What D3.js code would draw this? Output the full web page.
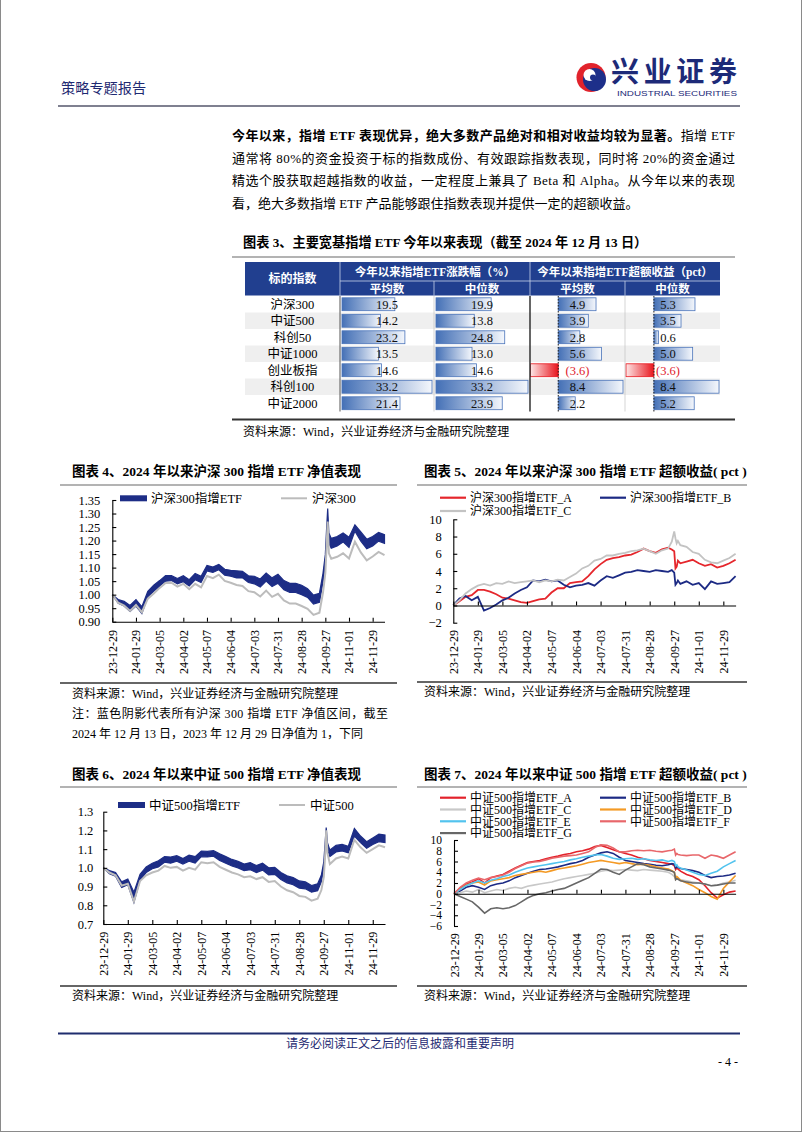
<!DOCTYPE html>
<html><head><meta charset="utf-8">
<script src="https://cdn.jsdelivr.net/npm/d3@7"></script>
<style>
html,body{margin:0;padding:0;background:#fff;}
svg{display:block;}
text{font-family:"Liberation Serif","Noto Sans CJK SC",serif;}
</style></head><body>
<svg id="page" width="802" height="1133"></svg>
<script>
// ---------------- DATA ----------------
const tableIndices = ["沪深300","中证500","科创50","中证1000","创业板指","科创100","中证2000"];
const ytdMean      = [19.5,14.2,23.2,13.5,14.6,33.2,21.4];
const ytdMedian    = [19.9,13.8,24.8,13.0,14.6,33.2,23.9];
const excessMean   = [4.9,3.9,2.8,5.6,-3.6,8.4,2.2];
const excessMedian = [5.3,3.5,0.6,5.0,-3.6,8.4,5.2];

const tickDays   = [0,20,40,60,80,100,120,140,160,180,200,220];
const tickLabels = ["23-12-29","24-01-29","24-03-05","24-04-02","24-05-07","24-06-04","24-07-03","24-07-31","24-08-28","24-09-27","24-11-01","24-11-29"];
// trading-day index of each sampled observation
const days = [0,5,10,15,20,25,30,35,40,45,50,55,60,65,70,75,80,85,90,95,100,105,110,115,120,125,130,135,140,145,150,155,160,165,170,175,178,180,181,182,183,185,190,195,200,205,210,215,220,225,230];

// Chart 4: CSI 300 net value
const hs300Index = [1.000,0.970,0.960,0.940,0.962,0.935,0.985,1.004,1.025,1.043, 1.044,1.030,1.040,1.020,1.040,1.027,1.069,1.061,1.074,1.051, 1.044,1.036,1.032,1.013,1.009,0.993,1.015,0.992,1.003,0.979, 0.967,0.967,0.958,0.948,0.925,0.933, 1.007,1.079,1.171,1.270,1.153, 1.133,1.140,1.153,1.134,1.196,1.156,1.127,1.141,1.158,1.146];
const hs300EtfLo = [1.000,0.968,0.958,0.938,0.958,0.930,0.992,1.012,1.032,1.050, 1.052,1.040,1.048,1.032,1.055,1.045,1.088,1.082,1.092,1.072, 1.068,1.062,1.062,1.045,1.040,1.028,1.050,1.030,1.042,1.018, 1.008,1.008,1.000,0.990,0.965,0.972, 1.045,1.115,1.205,1.280,1.190, 1.172,1.180,1.195,1.175,1.235,1.198,1.170,1.180,1.198,1.190];
const hs300EtfHi = [1.000,0.982,0.975,0.960,0.982,0.955,1.012,1.035,1.052,1.070, 1.070,1.060,1.070,1.055,1.078,1.068,1.108,1.102,1.112,1.094, 1.090,1.088,1.086,1.070,1.068,1.058,1.080,1.062,1.075,1.052, 1.042,1.042,1.035,1.022,0.998,1.005, 1.078,1.148,1.238,1.318,1.228, 1.208,1.215,1.228,1.212,1.258,1.232,1.205,1.215,1.230,1.222];

// Chart 5: CSI 300 ETF excess (pct)
const hs300A = [0,0.5,1.0,1.2,1.8,1.8,1.6,1.3,0.9,0.8, 0.6,0.4,0.3,0.5,0.7,0.8,1.5,2.0,2.0,2.6, 2.7,2.8,3.4,4.2,4.8,5.3,5.5,5.6,5.8,5.9, 6.2,6.6,6.3,6.1,6.5,6.7, 6.5,6.3,4.3,4.5,5.2, 4.9,5.1,5.3,4.9,4.6,4.8,4.4,4.6,4.9,5.3];
const hs300B = [0,0.8,1.1,0.6,1.0,-0.6,-0.3,0.1,0.6,0.9, 1.4,1.8,2.1,2.9,2.8,3.0,2.8,2.9,2.4,2.1, 2.3,2.4,2.6,2.3,2.9,3.4,3.2,3.5,3.8,3.9, 4.1,4.0,3.9,4.1,4.0,3.9, 4.1,3.8,2.4,2.6,2.9, 2.5,2.8,2.4,2.6,1.9,2.8,2.5,2.6,2.7,3.4];
const hs300C = [0,0.6,1.4,1.9,2.3,2.5,2.3,2.6,2.5,2.8, 2.6,2.7,2.8,2.9,2.7,2.9,2.8,3.0,2.9,3.3, 3.7,4.3,4.6,5.2,5.4,5.8,5.8,6.0,6.1,6.3, 6.4,6.6,6.3,6.0,6.4,6.6, 7.4,8.6,7.8,7.2,7.5, 7.0,6.8,6.2,6.0,5.3,5.0,4.9,5.2,5.5,6.0];

// Chart 6: CSI 500 net value
const zz500Index = [1.000,0.975,0.960,0.905,0.915,0.820,0.930,0.960,0.975,0.985, 1.010,1.000,1.005,0.985,1.000,0.990,1.030,1.025,1.030,1.005, 0.990,0.975,0.965,0.950,0.955,0.940,0.950,0.925,0.930,0.900, 0.880,0.870,0.850,0.845,0.825,0.835, 0.880,0.950,1.050,1.200,1.080, 1.020,1.050,1.060,1.050,1.150,1.110,1.080,1.100,1.120,1.110];
const zz500EtfLo = [1.000,0.968,0.955,0.895,0.910,0.815,0.935,0.975,0.995,1.005, 1.030,1.025,1.035,1.020,1.035,1.025,1.060,1.058,1.062,1.040, 1.025,1.010,1.000,0.985,0.990,0.975,0.988,0.962,0.965,0.938, 0.920,0.910,0.892,0.888,0.870,0.878, 0.925,0.995,1.090,1.175,1.100, 1.060,1.085,1.090,1.080,1.170,1.135,1.105,1.125,1.140,1.135];
const zz500EtfHi = [1.000,0.985,0.975,0.925,0.940,0.870,0.965,1.005,1.025,1.038, 1.060,1.058,1.065,1.050,1.068,1.060,1.090,1.088,1.092,1.075, 1.060,1.045,1.035,1.020,1.028,1.012,1.025,1.000,1.002,0.975, 0.958,0.948,0.930,0.925,0.905,0.915, 0.960,1.030,1.125,1.215,1.135, 1.095,1.120,1.125,1.115,1.210,1.170,1.140,1.160,1.180,1.175];

// Chart 7: CSI 500 ETF excess (pct)
const zz500A = [0,1.0,1.8,2.2,2.8,2.0,3.0,3.3,3.6,4.2, 4.8,5.3,5.8,6.0,6.2,6.5,6.8,7.0,7.3,7.5, 7.8,8.0,8.3,8.8,9.0,8.6,8.2,7.8,7.5,7.2, 6.8,6.5,6.2,6.0,5.8,5.6, 5.5,5.2,4.5,4.8,4.6, 4.2,3.6,3.2,2.6,1.5,0.2,-0.8,-0.2,0.3,0.5];
const zz500B = [0,0.5,1.2,1.5,1.2,0.8,1.5,1.8,2.0,2.4, 3.0,3.4,3.8,4.2,4.5,4.6,4.8,5.0,5.3,5.6, 5.8,6.2,6.8,7.2,7.6,7.8,7.5,6.8,6.2,6.0, 5.8,5.6,5.5,5.3,5.2,5.4, 5.6,5.5,4.8,5.0,4.9, 4.7,4.5,4.3,4.0,3.4,3.0,3.2,3.3,3.5,3.8];
const zz500C = [0,0.2,0.5,0.3,0.8,0.2,0.5,0.8,0.6,1.0, 1.2,1.0,1.4,1.6,1.8,2.0,2.2,2.5,2.8,3.0, 3.2,3.4,3.6,3.8,4.2,4.4,4.3,4.4,4.5,4.4, 4.3,4.5,4.4,4.3,4.2,4.0, 3.6,3.2,2.8,3.0,2.8, 2.6,2.4,2.2,2.0,1.8,1.5,1.6,2.0,2.2,2.5];
const zz500D = [0,0.8,1.6,2.0,2.2,1.6,2.4,2.6,2.8,3.0, 3.4,3.6,3.8,4.0,4.2,4.0,4.3,4.6,4.8,5.0, 5.2,5.5,5.8,6.0,6.2,6.0,5.8,5.6,5.8,5.6, 5.4,5.5,5.3,5.0,4.8,4.6, 4.3,4.0,2.8,3.2,3.0, 2.5,2.0,1.5,0.8,0.2,-0.5,-1.0,1.0,2.2,3.4];
const zz500E = [0,0.8,1.5,2.0,2.4,2.0,2.5,2.8,3.2,3.5, 4.0,4.4,4.8,5.0,5.2,5.4,5.6,5.8,6.0,6.3, 6.5,6.8,7.0,7.2,7.3,7.0,6.6,6.4,6.5,6.6, 6.4,6.5,6.3,6.2,6.3,6.0, 6.2,6.0,5.2,5.4,5.0, 4.8,4.4,4.0,3.6,3.4,3.8,4.2,5.0,5.6,6.2];
const zz500F = [0,1.2,2.0,2.5,2.9,2.6,3.0,3.2,3.5,4.0, 4.7,5.2,5.7,5.9,6.0,6.3,6.6,6.8,7.0,7.1, 7.2,7.5,7.8,8.6,9.1,9.0,8.5,7.8,7.8,8.0, 8.1,8.0,8.1,7.9,7.8,8.0, 8.1,8.3,7.2,7.5,7.3, 7.2,7.1,7.2,7.2,6.6,7.2,7.0,6.6,7.2,7.8];
const zz500G = [0,-0.5,-1.0,-1.5,-2.5,-3.6,-2.8,-2.6,-2.8,-2.6, -2.2,-1.5,-0.8,-0.3,0.0,0.2,0.5,0.8,1.0,1.5, 2.0,2.5,3.0,3.8,4.6,4.5,4.0,3.6,4.4,5.0, 5.6,5.4,5.0,4.8,4.6,4.4, 4.2,4.0,2.6,2.8,2.7, 2.4,2.2,2.0,2.0,1.8,1.5,1.6,1.8,2.0,2.0];

const hsYTicks = [0.90,0.95,1.00,1.05,1.10,1.15,1.20,1.25,1.30,1.35];
const zzYTicks = [0.7,0.8,0.9,1.0,1.1,1.2,1.3];
const ex5YTicks = [-2,0,2,4,6,8,10];
const ex7YTicks = [-6,-4,-2,0,2,4,6,8,10];

// ---------------- DRAW ----------------
const svg = d3.select("#page");
const NAVY = "#1d2d86";
const INK = "#1e2a72";

function txt(parent, x, y, s, o = {}) {
  const t = parent.append("text").attr("x", x).attr("y", y).text(s)
    .attr("font-size", o.size || 12).attr("fill", o.fill || "#000");
  if (o.weight) t.attr("font-weight", o.weight);
  if (o.anchor) t.attr("text-anchor", o.anchor);
  if (o.len) t.attr("textLength", o.len).attr("lengthAdjust", "spacing");
  return t;
}
function line(x1, y1, x2, y2, color, w, dash) {
  const l = svg.append("line").attr("x1", x1).attr("y1", y1).attr("x2", x2).attr("y2", y2)
    .attr("stroke", color).attr("stroke-width", w);
  if (dash) l.attr("stroke-dasharray", dash);
  return l;
}

// page border
line(0.5, 0, 0.5, 1131.5, "#8a8a8a", 1);
line(801.5, 0, 801.5, 1131.5, "#8a8a8a", 1);
line(0, 1131.5, 802, 1131.5, "#8a8a8a", 1);

// header
txt(svg, 61, 93, "策略专题报告", {size: 14.2, fill: INK});
const logo = svg.append("g");
logo.append("circle").attr("cx", 591).attr("cy", 77.5).attr("r", 14.5).attr("fill", "#e1232c");
logo.append("circle").attr("cx", 594.5).attr("cy", 79.5).attr("r", 11.5).attr("fill", "#1d2f8a");
logo.append("circle").attr("cx", 589.5).attr("cy", 75).attr("r", 6).attr("fill", "#fff");
logo.append("circle").attr("cx", 593).attr("cy", 77.5).attr("r", 3).attr("fill", "#1d2f8a");
txt(svg, 611, 82, "兴业证券", {size: 28, fill: "#1d2a78", weight: 700, len: 126});
svg.append("text").attr("x", 617).attr("y", 96).text("INDUSTRIAL SECURITIES")
  .attr("font-size", 7.5).attr("fill", "#1d2a78").attr("textLength", 120).attr("lengthAdjust", "spacingAndGlyphs")
  .style("font-family", '"Liberation Sans Narrow","Liberation Sans",sans-serif');
line(58, 106, 740, 106, "#7f8090", 2);

// paragraph
const p1 = svg.append("text").attr("x", 232).attr("y", 140).attr("font-size", 13)
  .attr("textLength", 503).attr("lengthAdjust", "spacing");
p1.append("tspan").attr("font-weight", 700).text("今年以来，指增 ETF 表现优异，绝大多数产品绝对和相对收益均较为显著。");
p1.append("tspan").text("指增 ETF");
txt(svg, 232, 162.7, "通常将 80%的资金投资于标的指数成份、有效跟踪指数表现，同时将 20%的资金通过", {size: 13, len: 503});
txt(svg, 232, 185.3, "精选个股获取超越指数的收益，一定程度上兼具了 Beta 和 Alpha。从今年以来的表现", {size: 13, len: 503});
txt(svg, 232, 208, "看，绝大多数指增 ETF 产品能够跟住指数表现并提供一定的超额收益。", {size: 13});

// ---------------- TABLE ----------------
txt(svg, 243, 247, "图表 3、主要宽基指增 ETF 今年以来表现（截至 2024 年 12 月 13 日）", {size: 13.2, weight: 700});
line(232, 257, 735, 257, "#9a9a9a", 1.5);

const defs = svg.append("defs");
const gb = defs.append("linearGradient").attr("id", "gBlue").attr("x1", 0).attr("x2", 1).attr("y1", 0).attr("y2", 0);
gb.append("stop").attr("offset", 0).attr("stop-color", "#4470b6");
gb.append("stop").attr("offset", 1).attr("stop-color", "#f4f7fc");
const gr = defs.append("linearGradient").attr("id", "gRed").attr("x1", 0).attr("x2", 1).attr("y1", 0).attr("y2", 0);
gr.append("stop").attr("offset", 0).attr("stop-color", "#fde6e6");
gr.append("stop").attr("offset", 1).attr("stop-color", "#e8141c");

const tb = svg.append("g");
const hdrTop = 262, hdrMid = 281, hdrBot = 295.5, rowTop = 296, rowH = 16.5;
tb.append("rect").attr("x", 245).attr("y", hdrTop).attr("width", 475).attr("height", hdrBot - hdrTop).attr("fill", "#213f8f");
tb.append("line").attr("x1", 340).attr("x2", 720).attr("y1", hdrMid).attr("y2", hdrMid).attr("stroke", "#c9d3ea").attr("stroke-width", 0.8);
[340, 530].forEach(xx => tb.append("line").attr("x1", xx).attr("x2", xx).attr("y1", hdrTop).attr("y2", hdrBot).attr("stroke", "#c9d3ea").attr("stroke-width", 0.8));
[434, 625].forEach(xx => tb.append("line").attr("x1", xx).attr("x2", xx).attr("y1", hdrMid).attr("y2", hdrBot).attr("stroke", "#c9d3ea").attr("stroke-width", 0.8));
txt(tb, 292.5, 283, "标的指数", {anchor: "middle", fill: "#fff", weight: 700, size: 12});
txt(tb, 435, 276, "今年以来指增ETF涨跌幅（%）", {anchor: "middle", fill: "#fff", weight: 700, size: 11.5});
txt(tb, 625, 276, "今年以来指增ETF超额收益（pct）", {anchor: "middle", fill: "#fff", weight: 700, size: 11.5});
[["平均数", 387], ["中位数", 482], ["平均数", 577.5], ["中位数", 672.5]].forEach(d =>
  txt(tb, d[1], 292.5, d[0], {anchor: "middle", fill: "#fff", weight: 700, size: 11.5}));

const sYtdMean = d3.scaleLinear().domain([0, d3.max(ytdMean)]).range([342, 432]);
const sYtdMed = d3.scaleLinear().domain([0, d3.max(ytdMedian)]).range([436, 528]);
const sExMean = d3.scaleLinear().domain([d3.min(excessMean), d3.max(excessMean)]).range([530.5, 623]);
const sExMed = d3.scaleLinear().domain([d3.min(excessMedian), d3.max(excessMedian)]).range([626, 719]);
const f1 = d3.format(".1f");
const fmtV = v => v < 0 ? "(" + f1(-v) + ")" : f1(v);

tableIndices.forEach((name, i) => {
  const top = rowTop + i * rowH;
  if (i % 2 === 1) tb.append("rect").attr("x", 245).attr("y", top).attr("width", 475).attr("height", rowH).attr("fill", "#efefef");
});
const cols = [
  {vals: ytdMean, s: sYtdMean, cx: 387},
  {vals: ytdMedian, s: sYtdMed, cx: 482},
  {vals: excessMean, s: sExMean, cx: 577.5},
  {vals: excessMedian, s: sExMed, cx: 668}
];
cols.forEach(c => {
  c.vals.forEach((v, i) => {
    const top = rowTop + i * rowH;
    const x0 = c.s(0), x1 = c.s(v);
    tb.append("rect").attr("x", Math.min(x0, x1)).attr("y", top + 1.8).attr("width", Math.abs(x1 - x0)).attr("height", rowH - 3.6)
      .attr("fill", v < 0 ? "url(#gRed)" : "url(#gBlue)")
      .attr("stroke", v < 0 ? "#e8141c" : "#4a74ba").attr("stroke-width", 0.8);
  });
});
[sExMean, sExMed].forEach(s => tb.append("line").attr("x1", s(0)).attr("x2", s(0)).attr("y1", rowTop).attr("y2", rowTop + 7 * rowH)
  .attr("stroke", "#222").attr("stroke-width", 1).attr("stroke-dasharray", "1.5,1.5"));
cols.forEach(c => c.vals.forEach((v, i) => {
  const top = rowTop + i * rowH;
  txt(tb, c.cx, top + 12.5, fmtV(v), {anchor: "middle", size: 12.5, fill: v < 0 ? "#e0202a" : "#111"});
}));
tableIndices.forEach((name, i) => txt(tb, 292.5, rowTop + i * rowH + 12.5, name, {anchor: "middle", size: 12.5}));
line(340, rowTop, 340, rowTop + 7 * rowH, "#555", 1);
line(530, rowTop, 530, rowTop + 7 * rowH, "#333", 1.5);
line(434, rowTop, 434, rowTop + 7 * rowH, "#bbb", 0.6);
line(625, rowTop, 625, rowTop + 7 * rowH, "#bbb", 0.6);
line(232, 419.5, 735, 419.5, "#333", 2);
txt(svg, 243, 436, "资料来源：Wind，兴业证券经济与金融研究院整理", {size: 12});

// ---------------- CHART HELPERS ----------------
function drawAxes(x, y, c) {
  const yAx = svg.append("g").attr("transform", `translate(${c.x0},0)`)
    .call(d3.axisLeft(y).tickValues(c.yTicks).tickFormat(c.fmt).tickSizeInner(-4).tickSizeOuter(0).tickPadding(c.pad));
  yAx.selectAll("text").attr("font-size", c.yFont).attr("fill", "#000");
  yAx.selectAll("line,path").attr("stroke", "#000").attr("stroke-width", 1.1);
  const axisY = y(c.xAxisAt);
  const xAx = svg.append("g").attr("transform", `translate(0,${axisY})`)
    .call(d3.axisBottom(x).tickValues(tickDays).tickFormat((d, i) => tickLabels[i]).tickSizeInner(-4).tickSizeOuter(0));
  xAx.selectAll("line,path").attr("stroke", "#000").attr("stroke-width", 1.1);
  xAx.selectAll("text").attr("y", null).attr("dy", null).attr("text-anchor", "end")
    .attr("font-size", 12).attr("fill", "#000")
    .attr("transform", `translate(4,${c.labelTop - axisY}) rotate(-90)`);
}

function netChart(c) {
  const x = d3.scaleLinear().domain([0, 230]).range([c.x0, c.x1]);
  const y = d3.scaleLinear().domain([c.yTicks[0], c.yTicks[c.yTicks.length - 1]]).range([c.yBot, c.yTop]);
  const area = d3.area().x((d, i) => x(days[i])).y0((d, i) => y(c.lo[i])).y1((d, i) => y(c.hi[i]));
  svg.append("path").datum(c.lo).attr("d", area).attr("fill", NAVY).attr("stroke", NAVY).attr("stroke-width", 1.2);
  const ln = d3.line().x((d, i) => x(days[i])).y(d => y(d));
  svg.append("path").datum(c.idx).attr("d", ln).attr("fill", "none").attr("stroke", "#bcbcbc").attr("stroke-width", 2);
  drawAxes(x, y, Object.assign({xAxisAt: c.yTicks[0]}, c));
  // legend
  svg.append("rect").attr("x", c.legX).attr("y", c.legY - 3).attr("width", 27).attr("height", 6).attr("fill", NAVY);
  txt(svg, c.legX + 31, c.legY + 4.5, c.names[0], {size: 12.5});
  line(c.legX + 161, c.legY, c.legX + 187, c.legY, "#bcbcbc", 2);
  txt(svg, c.legX + 192, c.legY + 4.5, c.names[1], {size: 12.5});
}

function excessChart(c) {
  const x = d3.scaleLinear().domain([0, 230]).range([c.x0, c.x1]);
  const y = d3.scaleLinear().domain([c.yTicks[0], c.yTicks[c.yTicks.length - 1]]).range([c.yBot, c.yTop]);
  const ln = d3.line().x((d, i) => x(days[i])).y(d => y(d));
  c.series.forEach(s => svg.append("path").datum(s.vals).attr("d", ln).attr("fill", "none")
    .attr("stroke", s.color).attr("stroke-width", c.lw));
  drawAxes(x, y, Object.assign({xAxisAt: 0}, c));
  c.series.forEach((s, i) => {
    const col = i % 2, row = Math.floor(i / 2);
    const lx = col === 0 ? 440 : 600, ly = c.legY + row * c.legDy;
    line(lx, ly, lx + 26, ly, s.color, 2.2);
    txt(svg, lx + 30, ly + 4.3, s.name, {size: 12});
  });
}

// ---------------- CHART 4 ----------------
txt(svg, 72, 475.5, "图表 4、2024 年以来沪深 300 指增 ETF 净值表现", {size: 13.5, weight: 700});
line(60, 485, 397, 485, "#9a9a9a", 1.5);
netChart({x0: 112.3, x1: 384.5, yBot: 621.7, yTop: 500, yTicks: hsYTicks, fmt: d3.format(".2f"), pad: 12, yFont: 12.5,
  labelTop: 630, lo: hs300EtfLo, hi: hs300EtfHi, idx: hs300Index, legX: 120, legY: 498.3, names: ["沪深300指增ETF", "沪深300"]});
line(60, 683, 397, 683, "#333", 1.5);
txt(svg, 72, 697.5, "资料来源：Wind，兴业证券经济与金融研究院整理", {size: 12});
txt(svg, 72, 717.5, "注：蓝色阴影代表所有沪深 300 指增 ETF 净值区间，截至", {size: 12, len: 316});
txt(svg, 72, 737.5, "2024 年 12 月 13 日，2023 年 12 月 29 日净值为 1，下同", {size: 12});

// ---------------- CHART 5 ----------------
txt(svg, 424, 476, "图表 5、2024 年以来沪深 300 指增 ETF 超额收益( pct )", {size: 13.5, weight: 700});
line(417, 485, 747, 485, "#9a9a9a", 1.5);
excessChart({x0: 453.3, x1: 735.6, yBot: 622.7, yTop: 519.3, yTicks: ex5YTicks, fmt: d3.format("d"), pad: 11.5, yFont: 12.5,
  labelTop: 630, lw: 1.8, legY: 497.7, legDy: 13.3,
  series: [
    {name: "沪深300指增ETF_A", vals: hs300A, color: "#e5262c"},
    {name: "沪深300指增ETF_B", vals: hs300B, color: "#1c2a84"},
    {name: "沪深300指增ETF_C", vals: hs300C, color: "#c3c3c3"}
  ]});
line(417, 682, 747, 682, "#333", 1.5);
txt(svg, 424, 696, "资料来源：Wind，兴业证券经济与金融研究院整理", {size: 12});

// ---------------- CHART 6 ----------------
txt(svg, 72, 779, "图表 6、2024 年以来中证 500 指增 ETF 净值表现", {size: 13.5, weight: 700});
line(60, 787, 397, 787, "#9a9a9a", 1.5);
netChart({x0: 103.3, x1: 385, yBot: 924, yTop: 811.7, yTicks: zzYTicks, fmt: d3.format(".1f"), pad: 10, yFont: 12.5,
  labelTop: 931.7, lo: zz500EtfLo, hi: zz500EtfHi, idx: zz500Index, legX: 118, legY: 805, names: ["中证500指增ETF", "中证500"]});
line(60, 986, 397, 986, "#333", 1.5);
txt(svg, 72, 999.5, "资料来源：Wind，兴业证券经济与金融研究院整理", {size: 12});

// ---------------- CHART 7 ----------------
txt(svg, 424, 779, "图表 7、2024 年以来中证 500 指增 ETF 超额收益( pct )", {size: 13.5, weight: 700});
line(417, 787, 747, 787, "#9a9a9a", 1.5);
excessChart({x0: 454, x1: 735.6, yBot: 926, yTop: 840, yTicks: ex7YTicks, fmt: d3.format("d"), pad: 12, yFont: 11.5,
  labelTop: 933.3, lw: 1.6, legY: 797.7, legDy: 11.8,
  series: [
    {name: "中证500指增ETF_A", vals: zz500A, color: "#e3222b"},
    {name: "中证500指增ETF_B", vals: zz500B, color: "#1c2a84"},
    {name: "中证500指增ETF_C", vals: zz500C, color: "#c8c8c8"},
    {name: "中证500指增ETF_D", vals: zz500D, color: "#f49a25"},
    {name: "中证500指增ETF_E", vals: zz500E, color: "#52c3ee"},
    {name: "中证500指增ETF_F", vals: zz500F, color: "#e8676b"},
    {name: "中证500指增ETF_G", vals: zz500G, color: "#676767"}
  ]});
line(417, 986, 747, 986, "#333", 1.5);
txt(svg, 424, 1000, "资料来源：Wind，兴业证券经济与金融研究院整理", {size: 12});

// ---------------- FOOTER ----------------
line(58, 1033.5, 740, 1033.5, "#1f2d6e", 2);
txt(svg, 400, 1047.5, "请务必阅读正文之后的信息披露和重要声明", {size: 12, fill: INK, anchor: "middle"});
txt(svg, 738, 1066, "- 4 -", {size: 12, anchor: "end"});
</script>
</body></html>
